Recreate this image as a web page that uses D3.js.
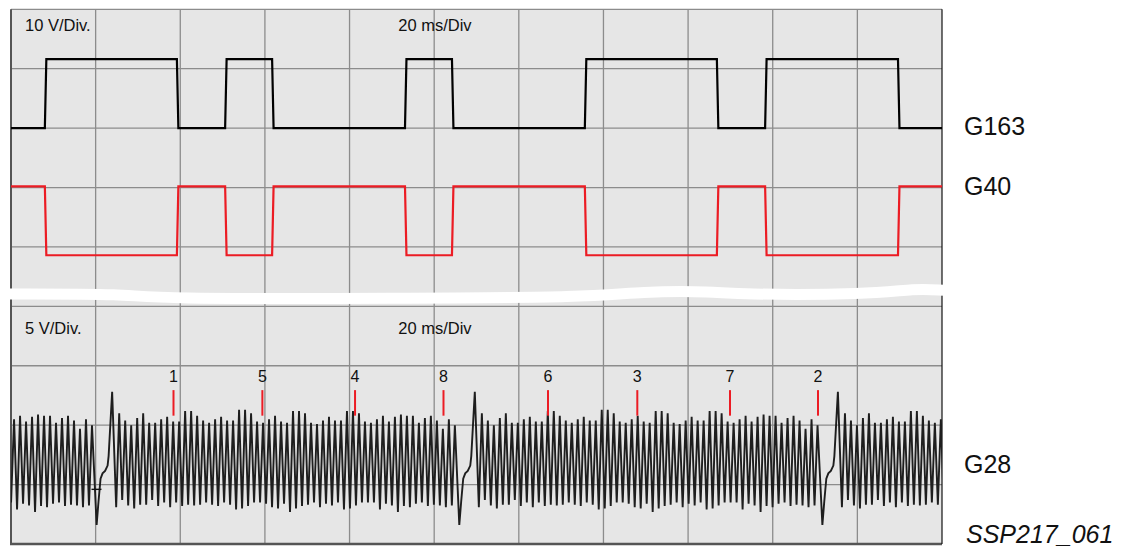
<!DOCTYPE html>
<html>
<head>
<meta charset="utf-8">
<script src="https://cdn.jsdelivr.net/npm/d3@7"></script>
<style>
  body { margin: 0; background: #fff; }
  text { font-family: "Liberation Sans", Arial, sans-serif; fill: #111; }
</style>
</head>
<body>
<div id="scope"></div>
<script>
// Scope settings: 11 time divisions of 20 ms, 9 vertical divisions
const timeDivs = 11;
const msPerDiv = 20;
const rowDivs = 9;

// G163 (black) and G40 (red): switching times in ms
const g163Edges = [8.0, 39.2, 50.6, 61.7, 93.1, 104.2, 135.6, 166.8, 178.2, 209.6];
const g40Edges = [8.0, 39.2, 50.6, 61.7, 93.1, 104.2, 135.6, 166.8, 178.2, 209.6];
const squareHigh = 11.6; // volts
const edgeMs = 0.35;     // slope of each edge

// G28: time (ms) of the big tooth right after each gap
const g28RevStarts = [-61.85, 23.9, 109.6, 195.4];
const g28RevMs = 85.75;
// peak / trough voltage of the 57 teeth after the gap
const g28Peaks = [6.0, 5.4, 5.0, 5.6, 6.0, 5.2, 5.2, 5.5, 5.7, 5.3,
                  5.3, 6.2, 6.2, 5.8, 5.4, 5.2, 5.5, 5.7, 5.4, 5.4,
                  6.3, 6.3, 6.0, 5.3, 5.2, 5.5, 5.8, 5.3, 5.2, 6.2,
                  6.2, 6.0, 5.2, 5.1, 5.4, 5.7, 5.4, 5.4, 6.2, 6.2,
                  6.0, 5.3, 5.2, 5.5, 5.8, 5.3, 5.7, 5.9, 5.8, 5.8,
                  5.2, 5.6, 5.8, 5.4, 4.7, 5.5, 5.0];
const g28Troughs = [-1.3, -1.75, -2.0, -1.7, -1.7, -1.3, -1.8, -1.5, -1.9, -1.5,
                    -1.8, -1.7, -1.75, -1.7, -1.5, -1.7, -1.8, -1.5, -1.7, -2.1,
                    -2.0, -1.8, -1.5, -1.5, -1.6, -1.9, -2.0, -1.6, -2.3, -2.0,
                    -1.8, -1.7, -1.5, -1.9, -1.6, -1.75, -1.5, -2.1, -2.0, -1.75,
                    -1.5, -1.5, -1.5, -2.1, -1.6, -1.75, -2.3, -1.8, -1.9, -1.6,
                    -1.5, -1.8, -1.7, -1.75, -1.9, -1.75];
// gap shape: [crank degrees relative to the big tooth, volts]
const g28Gap = [[-15.4, -3.4], [-13.5, -1.4], [-11.5, 0.5], [-9.5, 0.95], [-7, 1.15],
                [-4.5, 1.6], [-3.5, 2.4], [0, 7.8], [4, -1.9]];
const groundMark = {ms: 20.2, volts: -0.4};

// firing order markers
const cylLabels = ["1", "5", "4", "8", "6", "3", "7", "2"];
const cylMs = [38.4, 59.4, 81.3, 102.2, 126.9, 148.0, 169.9, 190.7];

// torn edge between the two screens: [ms, division]
const tearLine = [[-0.3, 4.79], [28.1, 4.79], [32.9, 4.875], [91.9, 4.865], [136.8, 4.85],
                  [148.6, 4.75], [166.4, 4.75], [171.1, 4.8], [203.0, 4.8], [213.6, 4.7], [220.3, 4.73]];

// Dimensions
const width = 1123;
const height = 547;
const plot = {left: 11, right: 942, top: 9.3, bottom: 544};

const svg = d3.select("#scope")
    .append("svg")
    .attr("width", width)
    .attr("height", height);

// Scales
const x = d3.scaleLinear()
    .domain([0, timeDivs * msPerDiv])
    .range([plot.left, plot.right]);
const yDiv = d3.scaleLinear()
    .domain([0, rowDivs])
    .range([plot.top, plot.bottom]);
const y163 = v => yDiv(2 - v / 10);
const y40 = v => yDiv(4.14 - v / 10);
const y28 = v => yDiv(8 - v / 5);

// Screen background
svg.append("rect")
    .attr("x", plot.left)
    .attr("y", plot.top)
    .attr("width", plot.right - plot.left)
    .attr("height", plot.bottom - plot.top)
    .attr("fill", "#e6e6e6");

// Grid
const grid = svg.append("g").attr("stroke", "#8c8c8c").attr("stroke-width", 1.3);
grid.selectAll(".vg")
    .data(d3.range(1, timeDivs))
    .join("line")
    .attr("x1", d => x(d * msPerDiv))
    .attr("x2", d => x(d * msPerDiv))
    .attr("y1", plot.top)
    .attr("y2", plot.bottom);
grid.selectAll(".hg")
    .data(d3.range(0, rowDivs))
    .join("line")
    .attr("x1", plot.left)
    .attr("x2", plot.right)
    .attr("y1", d => yDiv(d))
    .attr("y2", d => yDiv(d));

// Borders
svg.append("line").attr("x1", plot.left).attr("x2", plot.left)
    .attr("y1", plot.top).attr("y2", plot.bottom)
    .attr("stroke", "#555").attr("stroke-width", 2);
svg.append("line").attr("x1", plot.left - 1).attr("x2", plot.right)
    .attr("y1", plot.bottom).attr("y2", plot.bottom)
    .attr("stroke", "#555").attr("stroke-width", 2.5);
svg.append("line").attr("x1", plot.right).attr("x2", plot.right)
    .attr("y1", plot.top).attr("y2", plot.bottom)
    .attr("stroke", "#111").attr("stroke-width", 1.2);

svg.append("clipPath").attr("id", "screen")
    .append("rect")
    .attr("x", plot.left)
    .attr("y", plot.top)
    .attr("width", plot.right - plot.left)
    .attr("height", plot.bottom - plot.top);

const traces = svg.append("g").attr("clip-path", "url(#screen)");

// Square wave points from the switching times
function squarePoints(edges, startHigh) {
    let high = startHigh;
    const pts = [[x.domain()[0] - 1, high ? squareHigh : 0]];
    edges.forEach(t => {
        pts.push([t, high ? squareHigh : 0]);
        high = !high;
        pts.push([t + edgeMs, high ? squareHigh : 0]);
    });
    pts.push([x.domain()[1] + 1, high ? squareHigh : 0]);
    return pts;
}

traces.append("path")
    .datum(squarePoints(g163Edges, false))
    .attr("fill", "none")
    .attr("stroke", "#000")
    .attr("stroke-width", 2.2)
    .attr("d", d3.line().x(d => x(d[0])).y(d => y163(d[1])));

traces.append("path")
    .datum(squarePoints(g40Edges, true))
    .attr("fill", "none")
    .attr("stroke", "#ec1c24")
    .attr("stroke-width", 2.2)
    .attr("d", d3.line().x(d => x(d[0])).y(d => y40(d[1])));

// G28 inductive speed sensor: 60-2 wheel
const toothAngle = d3.scalePoint()
    .domain(d3.range(g28Peaks.length))
    .range([7, 340]);
const degToMs = d3.scaleLinear().domain([0, 360]).range([0, g28RevMs]);

const g28Points = [];
g28RevStarts.forEach(s => {
    g28Gap.forEach(([a, v]) => g28Points.push([s + degToMs(a), v]));
    g28Peaks.forEach((v, k) => {
        g28Points.push([s + degToMs(toothAngle(k)), v]);
        if (k < g28Troughs.length) {
            g28Points.push([s + degToMs(toothAngle(k) + toothAngle.step() / 2), g28Troughs[k]]);
        }
    });
});

traces.append("path")
    .datum(g28Points)
    .attr("fill", "none")
    .attr("stroke", "#1e1e1e")
    .attr("stroke-width", 1.9)
    .attr("stroke-linejoin", "miter")
    .attr("d", d3.line().x(d => x(d[0])).y(d => y28(d[1])));

// small ground mark
traces.append("line")
    .attr("x1", x(groundMark.ms) - 5)
    .attr("x2", x(groundMark.ms) + 5)
    .attr("y1", y28(groundMark.volts))
    .attr("y2", y28(groundMark.volts))
    .attr("stroke", "#111")
    .attr("stroke-width", 1.4);

// Cylinder markers
traces.selectAll(".cyl")
    .data(cylMs)
    .join("line")
    .attr("x1", d => x(d))
    .attr("x2", d => x(d))
    .attr("y1", y28(7.95))
    .attr("y2", y28(5.8))
    .attr("stroke", "#ec1c24")
    .attr("stroke-width", 2);

svg.selectAll(".cyllabel")
    .data(cylMs)
    .join("text")
    .attr("x", d => x(d))
    .attr("y", y28(8.6))
    .attr("text-anchor", "middle")
    .attr("font-size", 16)
    .text((d, i) => cylLabels[i]);

// Torn edge between upper and lower screen
svg.append("path")
    .datum(tearLine)
    .attr("fill", "none")
    .attr("stroke", "#fff")
    .attr("stroke-width", 11)
    .attr("d", d3.line().x(d => x(d[0])).y(d => yDiv(d[1])).curve(d3.curveBasis));

// Screen texts
const screenTexts = [
    {text: "10 V/Div.", ms: 3.3, div: 0.37},
    {text: "20 ms/Div", ms: 91.5, div: 0.37},
    {text: "5 V/Div.", ms: 3.3, div: 5.465},
    {text: "20 ms/Div", ms: 91.5, div: 5.465}
];
svg.selectAll(".scr")
    .data(screenTexts)
    .join("text")
    .attr("x", d => x(d.ms))
    .attr("y", d => yDiv(d.div))
    .attr("font-size", 16.5)
    .text(d => d.text);

// Channel names on the right
const channels = [
    {name: "G163", y: y163(0) + 7},
    {name: "G40", y: y40(squareHigh) + 9},
    {name: "G28", y: y28(1.0)}
];
svg.selectAll(".chan")
    .data(channels)
    .join("text")
    .attr("x", 964)
    .attr("y", d => d.y)
    .attr("font-size", 25)
    .text(d => d.name);

svg.append("text")
    .attr("x", 966)
    .attr("y", 543)
    .attr("font-size", 25)
    .attr("font-style", "italic")
    .text("SSP217_061");
</script>
</body>
</html>
